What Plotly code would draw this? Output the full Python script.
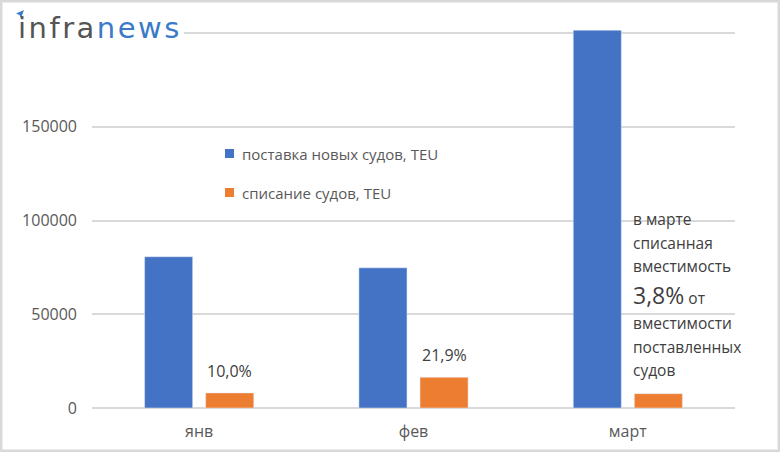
import plotly.graph_objects as go

# ---------------- data ----------------
categories = ["янв", "фев", "март"]
new_teu = [80700, 74800, 201600]          # поставка новых судов, TEU
scrap_teu = [8070, 16380, 7660]           # списание судов, TEU
scrap_labels = ["10,0%", "21,9%", ""]
y_ticks = [0, 50000, 100000, 150000, 200000]
y_tick_text = ["0", "50000", "100000", "150000", ""]   # 200000 hidden behind logo
series_names = ["поставка новых судов, TEU", "списание судов, TEU"]
note_lines = ["в марте", "списанная", "вместимость",
              "<span style='font-size:23px'>3,8%</span> от",
              "вместимости", "поставленных", "судов"]

# ---------------- layout geometry ----------------
W, H = 780, 452
L, R, T, B = 92, 45, 30, 44
PW, PH = W - L - R, H - T - B
Y_MAX = 201700

def px(x):
    return (x - L) / PW

def py(y):
    return (H - B - y) / PH

BLUE = "#4472C4"
ORANGE = "#ED7D31"
AXIS_TXT = "#595959"
DARK_TXT = "#404040"
GRID = "#D9D9D9"
FONT = "Open Sans"

fig = go.Figure()
fig.add_trace(go.Bar(x=categories, y=new_teu, name=series_names[0],
                     marker_color=BLUE, showlegend=False))
fig.add_trace(go.Bar(x=categories, y=scrap_teu, name=series_names[1],
                     marker_color=ORANGE, showlegend=False))

annotations = []
# data labels above orange bars
for c, v, t in zip(categories, scrap_teu, scrap_labels):
    if t:
        annotations.append(dict(x=c, y=v, xref="x", yref="y", text=t,
                                xshift=30.5, yshift=9, yanchor="bottom",
                                showarrow=False,
                                font=dict(family=FONT, size=16, color=DARK_TXT)))

# March note
note_y = [219, 243, 266, 295, 323, 347, 370]
for line, yy in zip(note_lines, note_y):
    annotations.append(dict(x=px(631), y=py(yy), xref="paper", yref="paper",
                            text=line, xanchor="left", yanchor="middle",
                            showarrow=False,
                            font=dict(family=FONT, size=15.5, color=DARK_TXT)))

# custom legend
shapes = []
leg_y = [153.5, 192.5]
for name, col, yy in zip(series_names, [BLUE, ORANGE], leg_y):
    shapes.append(dict(type="rect", xref="paper", yref="paper",
                       x0=px(225), x1=px(234), y0=py(yy - 4.5), y1=py(yy + 4.5),
                       fillcolor=col, line=dict(width=0)))
    annotations.append(dict(x=px(240), y=py(yy), xref="paper", yref="paper",
                            text=name, xanchor="left", yanchor="middle",
                            showarrow=False,
                            font=dict(family=FONT, size=15, color=AXIS_TXT)))

# logo area: white cover over top-left gridline
shapes.append(dict(type="rect", xref="paper", yref="paper", layer="above",
                   x0=px(3), x1=px(184), y0=py(48), y1=py(8),
                   fillcolor="white", line=dict(width=0)))
# paper plane icon
shapes.append(dict(type="path", xref="paper", yref="paper", layer="above",
                   path=f"M {px(16)} {py(13.5)} L {px(24)} {py(10)} L {px(21)} {py(18)} L {px(19.5)} {py(15)} Z",
                   fillcolor="#3A7BC8", line=dict(width=0)))
annotations.append(dict(x=px(16), y=py(47), xref="paper", yref="paper",
                        xanchor="left", yanchor="bottom", showarrow=False,
                        text="<span style='color:#555555;letter-spacing:2.5px'>infra</span>"
                             "<span style='color:#3A7BC8;letter-spacing:2.5px'>news</span>",
                        font=dict(family="DejaVu Sans", size=29)))

# outer frame
shapes.append(dict(type="rect", xref="paper", yref="paper", layer="above",
                   x0=px(1.2), x1=px(778.8), y0=py(450.8), y1=py(1.2),
                   line=dict(color=GRID, width=2.5), fillcolor="rgba(0,0,0,0)"))

fig.update_layout(
    width=W, height=H,
    margin=dict(l=L, r=R, t=T, b=B, pad=0, autoexpand=False),
    paper_bgcolor="white", plot_bgcolor="white",
    barmode="group", bargap=0.43, bargroupgap=0.213,
    annotations=annotations, shapes=shapes,
    showlegend=False,
    xaxis=dict(showgrid=False, showline=False, ticks="", automargin=False,
               tickfont=dict(family=FONT, size=16, color=AXIS_TXT),
               ticklabelstandoff=12),
    yaxis=dict(range=[0, Y_MAX], tickvals=y_ticks, ticktext=y_tick_text,
               automargin=False,
               showgrid=True, gridcolor=GRID, gridwidth=1.5,
               zeroline=True, zerolinecolor=GRID, zerolinewidth=1.5,
               showline=False, ticks="",
               tickfont=dict(family=FONT, size=16, color=AXIS_TXT),
               ticklabelstandoff=14),
)

fig.write_html("out.html")
